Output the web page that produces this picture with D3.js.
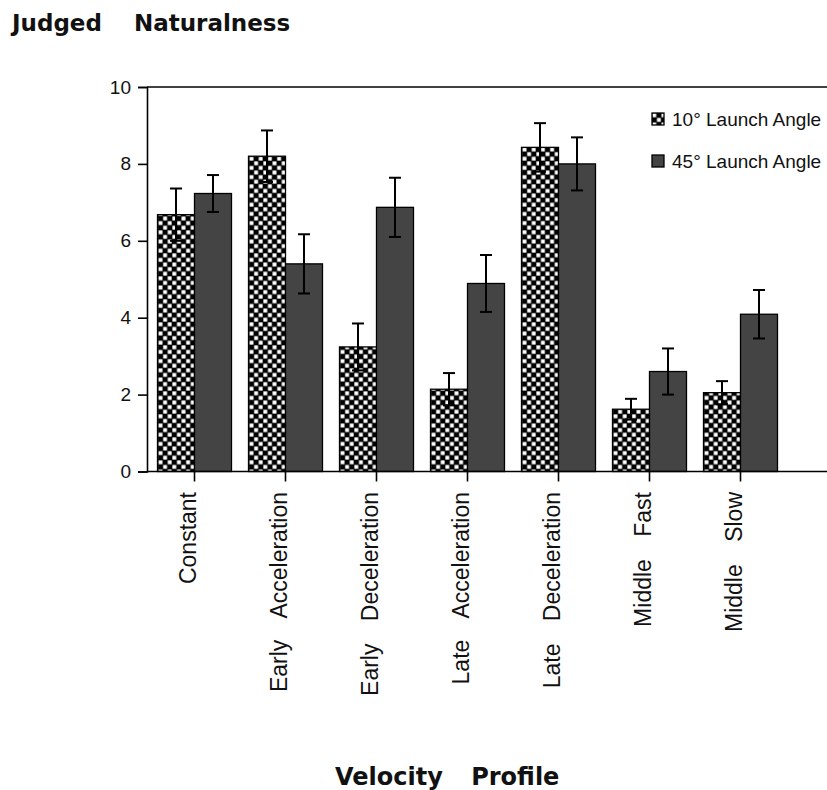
<!DOCTYPE html>
<html>
<head>
<meta charset="utf-8">
<script src="https://cdn.jsdelivr.net/npm/d3@7"></script>
<style>
  body { margin: 0; background: #fff; }
  svg { display: block; }
</style>
</head>
<body>
<div id="chart"></div>
<script>
// Velocity profiles on the x axis
const categories = ['Constant', 'Early Acceleration', 'Early Deceleration',
  'Late Acceleration', 'Late Deceleration', 'Middle Fast', 'Middle Slow'];
const seriesNames = ['10\u00b0 Launch Angle', '45\u00b0 Launch Angle'];

// Mean judged naturalness and error bar half-lengths
const means10 = [6.68, 8.20, 3.24, 2.14, 8.43, 1.62, 2.05];
const means45 = [7.23, 5.40, 6.87, 4.89, 8.00, 2.60, 4.09];
const err10   = [0.68, 0.67, 0.61, 0.42, 0.63, 0.27, 0.30];
const err45   = [0.48, 0.77, 0.77, 0.74, 0.69, 0.60, 0.63];
const yTicks  = [0, 2, 4, 6, 8, 10];

const W = 827, H = 790;
const plot = {left: 147, right: 827, top: 87, bottom: 471.5};

const svg = d3.select('#chart').append('svg')
    .attr('width', W)
    .attr('height', H);

// checkerboard fill for the 10 degree bars (black a bit heavier, like the print)
const defs = svg.append('defs');
const cell = 4.6;
const pat = defs.append('pattern')
    .attr('id', 'checker')
    .attr('patternUnits', 'userSpaceOnUse')
    .attr('width', cell * 2).attr('height', cell * 2);
pat.append('rect').attr('width', cell * 2).attr('height', cell * 2).attr('fill', '#000');
pat.append('rect').attr('x', 0.35).attr('y', 0.35)
    .attr('width', cell - 0.7).attr('height', cell - 0.7).attr('fill', '#fff');
pat.append('rect').attr('x', cell + 0.35).attr('y', cell + 0.35)
    .attr('width', cell - 0.7).attr('height', cell - 0.7).attr('fill', '#fff');

const fills = ['url(#checker)', '#444'];

// table built from the arrays
const rows = categories.map((c, i) => ({
  cat: c,
  bars: [
    {s: seriesNames[0], v: means10[i], e: err10[i]},
    {s: seriesNames[1], v: means45[i], e: err45[i]}
  ]
}));

// Scales
const x0 = d3.scaleBand()
    .domain(categories)
    .range([149, 786]);

const x1 = d3.scaleBand()
    .domain(seriesNames)
    .range([0, x0.bandwidth()])
    .paddingOuter(0.23);

const y = d3.scaleLinear()
    .domain([0, 10])
    .range([plot.bottom, plot.top]);

// Bars
const groups = svg.append('g')
  .selectAll('g')
  .data(rows)
  .enter().append('g')
    .attr('transform', d => `translate(${x0(d.cat)},0)`);

groups.selectAll('rect')
  .data(d => d.bars)
  .enter().append('rect')
    .attr('x', d => x1(d.s))
    .attr('y', d => y(d.v))
    .attr('width', x1.bandwidth())
    .attr('height', d => y(0) - y(d.v))
    .attr('fill', (d, i) => fills[i])
    .attr('stroke', '#000')
    .attr('stroke-width', 1.3);

// Error bars with caps at both ends
const capW = 6;
const eb = groups.selectAll('g.err')
  .data(d => d.bars)
  .enter().append('g')
    .attr('class', 'err')
    .attr('stroke', '#000')
    .attr('stroke-width', 2);

eb.append('line')
    .attr('x1', d => x1(d.s) + x1.bandwidth() / 2)
    .attr('x2', d => x1(d.s) + x1.bandwidth() / 2)
    .attr('y1', d => y(d.v + d.e))
    .attr('y2', d => y(d.v - d.e));
eb.append('line')
    .attr('x1', d => x1(d.s) + x1.bandwidth() / 2 - capW)
    .attr('x2', d => x1(d.s) + x1.bandwidth() / 2 + capW)
    .attr('y1', d => y(d.v + d.e))
    .attr('y2', d => y(d.v + d.e));
eb.append('line')
    .attr('x1', d => x1(d.s) + x1.bandwidth() / 2 - capW)
    .attr('x2', d => x1(d.s) + x1.bandwidth() / 2 + capW)
    .attr('y1', d => y(d.v - d.e))
    .attr('y2', d => y(d.v - d.e));

// Frame lines (top and bottom run to the edge of the picture)
const frame = svg.append('g').attr('stroke', '#000').attr('stroke-width', 1.6);
frame.append('line')
    .attr('x1', plot.left).attr('x2', plot.right)
    .attr('y1', y(10)).attr('y2', y(10));
frame.append('line')
    .attr('x1', plot.left).attr('x2', plot.right)
    .attr('y1', y(0)).attr('y2', y(0));

// Y axis
const yAxis = svg.append('g')
    .attr('transform', `translate(${plot.left},0)`)
    .call(d3.axisLeft(y).tickValues(yTicks).tickSize(9).tickPadding(7).tickFormat(d3.format('d')));
yAxis.select('.domain').attr('stroke-width', 1.6);
yAxis.selectAll('.tick line').attr('stroke-width', 1.6);
yAxis.selectAll('text')
    .attr('font-family', '"Liberation Sans", Arial, sans-serif')
    .attr('font-size', '19px')
    .attr('fill', '#111');

// X axis with rotated labels
const xAxis = svg.append('g')
    .attr('transform', `translate(0,${y(0)})`)
    .call(d3.axisBottom(x0).tickSize(10));
xAxis.select('.domain').remove();
xAxis.selectAll('.tick line').attr('stroke-width', 1.6);
xAxis.selectAll('text')
    .attr('transform', 'rotate(-90)')
    .attr('x', -20.5)
    .attr('y', 1)
    .attr('dy', 0)
    .attr('text-anchor', 'end')
    .attr('font-family', '"Liberation Sans", Arial, sans-serif')
    .attr('font-size', '23px')
    .style('word-spacing', '16px')
    .attr('fill', '#111');

// Legend
const legend = svg.append('g')
    .attr('transform', 'translate(652,113)')
  .selectAll('g')
  .data(seriesNames)
  .enter().append('g')
    .attr('transform', (d, i) => `translate(0,${i * 42})`);
legend.append('rect')
    .attr('width', 12).attr('height', 12)
    .attr('fill', (d, i) => fills[i])
    .attr('stroke', '#000')
    .attr('stroke-width', 1.3);
legend.append('text')
    .attr('x', 20)
    .attr('y', 13)
    .attr('font-family', '"Liberation Sans", Arial, sans-serif')
    .attr('font-size', '19px')
    .attr('fill', '#111')
    .text(d => d);

// Titles
svg.append('text')
    .attr('x', 12).attr('y', 31)
    .attr('font-family', '"DejaVu Sans", Verdana, sans-serif')
    .attr('font-weight', 'bold')
    .attr('font-size', '23px')
    .style('word-spacing', '24px')
    .attr('fill', '#111')
    .text('Judged Naturalness');

svg.append('text')
    .attr('x', 335).attr('y', 785)
    .attr('font-family', '"DejaVu Sans", Verdana, sans-serif')
    .attr('font-weight', 'bold')
    .attr('font-size', '24px')
    .style('word-spacing', '20px')
    .attr('fill', '#111')
    .text('Velocity Profile');
</script>
</body>
</html>
